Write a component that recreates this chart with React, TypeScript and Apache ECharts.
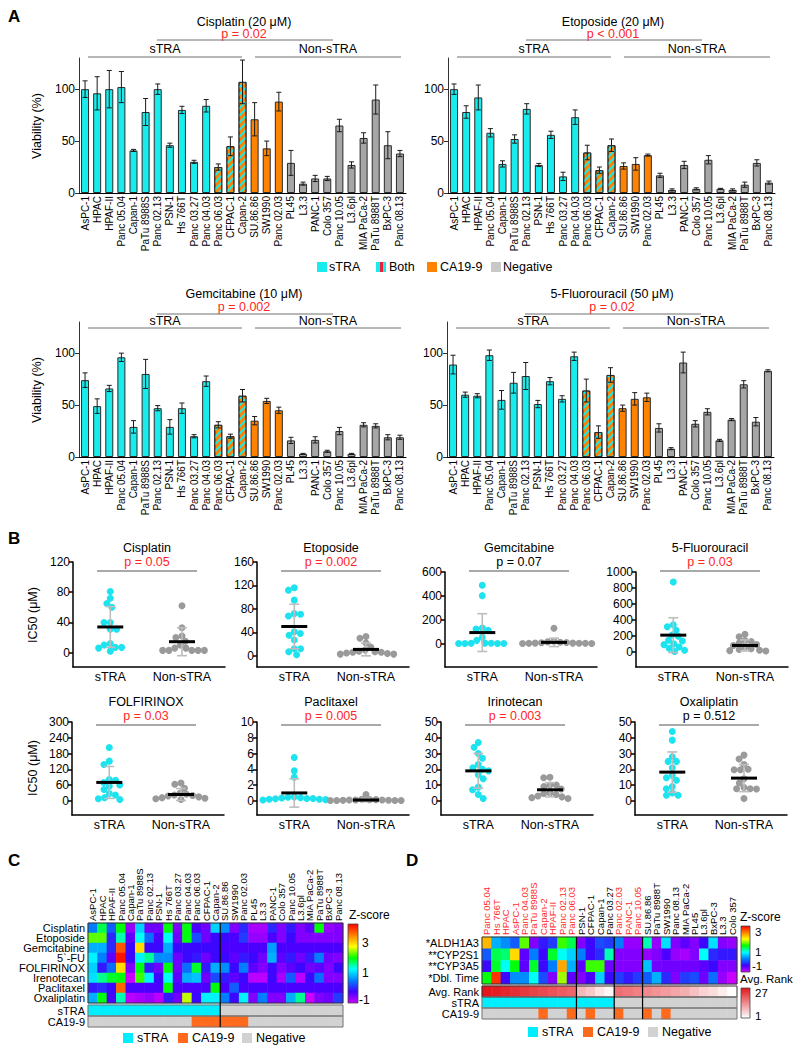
import React, { useEffect, useRef } from 'react';
import * as echarts from 'echarts';

const FONT = '"Liberation Sans", Arial, Helvetica, sans-serif';
const RED = '#ff2626';
const CYAN = '#18ecec';
const ORANGE = '#ff8200';
const GRAY = '#a6a6a6';
const DOT_CYAN = '#1de3ef';
const DOT_GRAY = '#9a9a9a';
const ANN_CYAN = '#00eeff';
const ANN_ORANGE = '#ff6a1c';
const ANN_GRAY = '#d2d2d2';
const ZCOLORS = ['#cc00ff', '#4000ff', '#0080ff', '#00ffff', '#00ff00', '#ffff00', '#ff8000', '#ff0000'];
const RANK_HI = '#e3141b';

// ---------- Panel A ----------
const CELLS = ['AsPC-1', 'HPAC', 'HPAF-II', 'Panc 05.04', 'Capan-1', 'PaTu 8988S', 'Panc 02.13', 'PSN-1', 'Hs 766T', 'Panc 03.27', 'Panc 04.03', 'Panc 06.03', 'CFPAC-1', 'Capan-2', 'SU.86.86', 'SW1990', 'Panc 02.03', 'PL45', 'L3.3', 'PANC-1', 'Colo 357', 'Panc 10.05', 'L3.6pl', 'MIA PaCa-2', 'PaTu 8988T', 'BxPC-3', 'Panc 08.13'];
const STATUS = ['sTRA', 'sTRA', 'sTRA', 'sTRA', 'sTRA', 'sTRA', 'sTRA', 'sTRA', 'sTRA', 'sTRA', 'sTRA', 'Both', 'Both', 'Both', 'CA19-9', 'CA19-9', 'CA19-9', 'Negative', 'Negative', 'Negative', 'Negative', 'Negative', 'Negative', 'Negative', 'Negative', 'Negative', 'Negative'];

const A_CIS = [100, 96, 100, 102, 41, 78, 100, 46, 80, 30, 84, 25, 45, 107, 71, 43, 88, 29, 9, 14, 14, 65, 27, 53, 90, 46, 38];
const A_CIS_ERR = [8, 16, 18, 15, 1, 13, 5, 2, 3.5, 1.5, 6, 3, 9, 21, 16, 7, 9, 12, 1.5, 3, 2, 6, 3, 5, 14, 13, 3];
const A_ETO = [100, 78, 92, 58, 28, 52, 81, 27, 56, 16, 73, 39, 22, 46, 26, 28, 36.5, 17, 3, 27, 4, 32, 4, 3, 8, 29, 10];
const A_ETO_ERR = [5, 6, 12, 4, 3, 4, 5, 1.5, 3.5, 4, 7, 7, 3, 6, 3, 6, 1, 2, 1, 3.5, 1, 4, 0.5, 1, 2.5, 3, 1.5];
const A_GEM = [74, 49, 66, 96, 29, 80, 47, 29, 47, 20, 73, 31, 20, 59, 35, 54, 45, 16, 3, 16.5, 5.5, 25, 3, 31, 30, 19, 19];
const A_GEM_ERR = [7, 7, 3, 4, 6, 14, 2.5, 7, 5, 1.5, 5, 3, 2, 6, 4, 2.5, 3, 3, 0.5, 3, 1, 3.5, 0.5, 2, 2, 2.5, 2];
const A_FU = [89, 60, 59, 98, 55, 71.5, 78, 51, 73, 56, 97, 64, 24, 79, 47, 56, 57.5, 28, 8, 91, 32, 43.5, 16, 36, 70, 34, 83];
const A_FU_ERR = [9, 2.5, 2, 5, 9, 10, 13, 3.5, 3.5, 3, 4, 11, 6, 7, 3, 6, 4, 4, 1, 10, 3, 3, 1, 1, 3.5, 4, 1];
const A_TICKS = [0, 50, 100];

// ---------- Panel B ----------
const B_CIS_S = [81, 72, 65, 60, 40, 40, 31, 31, 12, 10, 7, 7, 6, 2];
const B_CIS_N = [62, 33, 22, 20, 15, 10, 6, 6, 3, 3, 3, 3, 3];
const B_ETO_S = [116, 112, 95, 72, 71, 68, 41, 38, 35, 27, 12, 12, 7, 2];
const B_ETO_N = [33, 30, 22, 15, 10, 8, 7, 6, 6, 5, 4, 3, 3];
const B_GEM_S = [489, 402, 131, 123, 112, 53, 28, 5, 4, 3, 2, 2, 1, 1];
const B_GEM_N = [130, 20, 15, 12, 10, 8, 5, 5, 4, 3, 3, 2, 2];
const B_FU_S = [875, 340, 315, 270, 210, 195, 145, 135, 100, 90, 60, 45, 20, 5];
const B_FU_N = [220, 190, 140, 130, 110, 90, 80, 60, 40, 30, 20, 15, 10];
const B_FOL_S = [203, 151, 138, 81, 78, 70, 60, 56, 43, 28, 22, 12, 8, 5];
const B_FOL_N = [68, 63, 48, 30, 25, 22, 20, 18, 15, 12, 10, 8, 5];
const B_PAC_S = [5.5, 3.8, 3.0, 0.5, 0.45, 0.4, 0.35, 0.3, 0.3, 0.25, 0.2, 0.2, 0.15, 0.1];
const B_PAC_N = [0.8, 0.2, 0.15, 0.15, 0.1, 0.1, 0.1, 0.08, 0.06, 0.05, 0.05, 0.04, 0.03];
const B_IRI_S = [37, 34, 30, 27, 23, 21, 20, 19, 16.5, 14, 8.7, 7, 4, 1.5];
const B_IRI_N = [15, 14.6, 10, 10, 9, 7.5, 5, 4.6, 4, 3, 2.5, 2, 1.5];
const B_OXA_S = [44, 38.5, 28, 25, 25, 21, 16, 14.6, 13, 9, 7.7, 5, 3.5, 3.5];
const B_OXA_N = [29, 26.5, 23, 20, 19.7, 19.7, 14, 11.3, 8.4, 7.7, 7.7, 7.5, 1.5];
// [mean sTRA, sd sTRA, mean Non-sTRA, sd Non-sTRA]
const B_CIS_STAT = [34, 27, 14.5, 18.5];
const B_ETO_STAT = [50, 38, 11, 11];
const B_GEM_STAT = [93, 158, 11, 35];
const B_FU_STAT = [209, 218, 80, 70];
const B_FOL_STAT = [70, 61, 24, 23];
const B_PAC_STAT = [1.0, 1.8, 0.1, 0.2];
const B_IRI_STAT = [19, 11, 7, 4.5];
const B_OXA_STAT = [18.2, 12.8, 14.4, 8.6];
const B_TICKS_CIS = [0, 40, 80, 120];
const B_TICKS_ETO = [0, 40, 80, 120, 160];
const B_TICKS_GEM = [0, 200, 400, 600];
const B_TICKS_FU = [0, 200, 400, 600, 800, 1000];
const B_TICKS_FOL = [0, 60, 120, 180, 240, 300];
const B_TICKS_PAC = [0, 2, 4, 6, 8, 10];
const B_TICKS_50 = [0, 10, 20, 30, 40, 50];

// ---------- Panel C ----------
const C_ROWS = ['Cisplatin', 'Etoposide', 'Gemcitabine', '5`-FU', 'FOLFIRINOX', 'Irenotecan', 'Paclitaxel', 'Oxaliplatin'];
const Z_CIS = [0.5, 1.8, 0.3, 2.0, -0.7, 1.0, -0.5, -0.5, 2.0, -0.6, 2.0, -0.3, -0.5, 1.0, 0.6, -0.6, 0, -0.8, -0.8, 0, -0.6, -0.1, -0.6, -0.4, 2.0, -0.7, -0.6];
const Z_ETO = [2.3, 2.3, 0, 1.5, -0.4, 1.3, 0.4, -0.3, 1.3, -0.5, 2.0, 0.2, -0.5, -0.2, -0.2, -0.3, 0.1, -0.7, -0.7, -0.3, -0.6, -0.2, -0.6, -0.6, -0.6, -0.6, -0.6];
const Z_GEM = [0.8, 0.8, 0, 3.8, -0.2, 3.0, -0.2, -0.2, 0.8, -0.2, -0.2, -0.2, -0.2, -0.2, -0.3, -0.3, -0.3, -0.3, -0.3, 0.7, -0.3, -0.3, -0.3, -0.3, -0.3, -0.3, -0.3];
const Z_FU = [1.2, 0.5, -0.4, 4.2, -0.2, 1.2, 1.6, 0.6, 0.6, -0.5, -0.2, -0.1, -0.5, -0.2, -0.2, -0.4, -0.1, -0.2, -0.5, 0.8, -0.4, -0.1, -0.5, -0.1, 0.5, -0.5, -0.6];
const Z_FOL = [1.0, -0.1, 0.4, 3.0, -0.6, 2.0, -0.1, -0.5, 2.0, -0.5, 0.4, 1.9, -0.1, 0.8, 0.6, -0.2, 0.5, -0.4, -0.6, -0.2, -0.6, -0.4, -0.2, -0.5, -0.4, -0.6, -0.2];
const Z_IRI = [1.1, 1.6, 1.9, 2.0, -1.0, 2.2, 1.2, -0.2, 1.3, -0.4, 0.8, 0.9, -0.5, 0.2, -0.1, -0.4, -0.2, -0.9, -0.9, -0.2, -0.8, 0.3, -0.9, -0.2, 0.4, -0.6, -0.6];
const Z_PAC = [-0.1, 0, -0.2, 3.7, -0.3, -0.3, -0.3, -0.3, 2.0, -0.3, -0.3, -0.3, -0.3, 2.0, -0.3, 0.3, -0.3, -0.3, -0.3, -0.3, -0.3, -0.3, -0.3, -0.3, -0.3, -0.3, -0.3];
const Z_OXA = [0.8, 2.0, -0.3, 1.5, -0.9, -0.8, -0.7, -0.9, -0.1, -0.5, 2.6, -0.2, 1.2, 1.2, 0.5, -0.2, 1.2, -0.6, 0.5, -0.6, -0.6, 0.8, 1.6, -1.0, -0.6, -0.5, 0.1];
const C_Z = [Z_CIS, Z_ETO, Z_GEM, Z_FU, Z_FOL, Z_IRI, Z_PAC, Z_OXA];

// ---------- Panel D ----------
const D_CELLS = ['Panc 05.04', 'Hs 766T', 'HPAC', 'AsPC-1', 'Panc 04.03', 'PaTu 8988S', 'Capan-2', 'HPAF-II', 'Panc 02.13', 'Panc 06.03', 'PSN-1', 'CFPAC-1', 'Capan-1', 'Panc 03.27', 'Panc 02.03', 'PANC-1', 'Panc 10.05', 'SU.86.86', 'PaTu 8988T', 'SW1990', 'Panc 08.13', 'MIA PaCa-2', 'PL45', 'L3.6pl', 'BxPC-3', 'L3.3', 'Colo 357'];
const D_RED_LABELS = ['Panc 05.04', 'Hs 766T', 'HPAC', 'AsPC-1', 'Panc 04.03', 'PaTu 8988S', 'Capan-2', 'HPAF-II', 'Panc 02.13', 'Panc 06.03', 'Panc 02.03', 'PANC-1', 'Panc 10.05'];
const D_ROWS = ['*ALDH1A3', '**CYP2S1', '**CYP3A5', '*Dbl. Time'];
const D_ALDH = [3.2, 0.8, 0.6, 0.3, 2.3, -0.6, -0.1, 0.1, 2.2, 1.8, -0.6, -0.2, 0.2, 0.1, 0.5, -0.7, -0.7, 1.5, -0.7, 1.1, -0.6, -0.4, -0.6, -0.2, 1.1, -0.6, -0.7];
const D_CYP2S1 = [0.3, 1.8, 1.7, 3.0, -0.4, 0.5, -0.2, 1.9, 1.3, 1.0, 0.5, -0.2, 0, 1.5, -0.6, -0.6, -0.6, -0.7, -0.6, -0.3, -0.7, -0.8, -0.6, 1.3, 0, -0.1, -0.1];
const D_CYP3A5 = [-0.2, 1.9, 1.3, 2.0, -0.4, 1.9, -0.2, 0.5, 3.3, 0.8, -0.4, 2.2, 2.2, -0.5, -0.6, -0.6, -0.6, 0.9, -0.5, -0.5, -0.5, -0.5, -0.5, -0.4, -0.2, -0.6, -0.6];
const D_DBL = [2.0, 4.0, -0.2, 0.6, 0.6, 1.3, 0.2, -0.6, 2.5, -0.4, -0.6, -0.3, 1.0, -0.2, 0.1, -0.1, 0.1, 0.3, 0.8, 0, -0.6, 0.1, 0.2, -0.5, 0.4, -0.7, -1.0];
const D_Z = [D_ALDH, D_CYP2S1, D_CYP3A5, D_DBL];
const D_RANK = [27, 26, 25, 24, 23, 22, 21, 20, 19, 18, 9, 7, 4, 2, 17, 16, 15, 14, 13, 12, 11, 10, 8, 6, 5, 3, 1];

function swarm(vals: number[], pxY: number, pxX: number, d: number): number[] {
  const order = vals.map((_, i) => i).sort((a, b) => vals[b] - vals[a]);
  const placed: { x: number; y: number }[] = [];
  const res = new Array(vals.length).fill(0);
  let flip = 1;
  for (const i of order) {
    const y = vals[i] * pxY;
    const cands = [0];
    for (const p of placed) {
      const dy = Math.abs(p.y - y);
      if (dy < d) {
        const dx = Math.sqrt(d * d - dy * dy);
        cands.push(p.x + dx, p.x - dx);
      }
    }
    cands.sort((a, b) => (Math.abs(a) + (a * flip > 0 ? 1e-6 : 0)) - (Math.abs(b) + (b * flip > 0 ? 1e-6 : 0)));
    let best = 0;
    for (const c of cands) {
      if (placed.every((p) => (p.x - c) ** 2 + (p.y - y) ** 2 >= d * d - 0.01)) { best = c; break; }
    }
    if (best !== 0) flip = -flip;
    placed.push({ x: best, y });
    res[i] = best / pxX;
  }
  return res;
}

function barStyle(s: string) {
  const base = { borderColor: '#2a2a2a', borderWidth: 1 };
  if (s === 'sTRA') return { ...base, color: CYAN };
  if (s === 'CA19-9') return { ...base, color: ORANGE };
  if (s === 'Negative') return { ...base, color: GRAY };
  return { ...base, color: ORANGE, decal: { symbol: 'rect', symbolSize: 1, color: CYAN, dashArrayX: [1, 0], dashArrayY: [2, 3], rotation: -Math.PI / 4 } };
}

const renderErrA = (params: any, api: any) => {
  const i = api.value(0), v = api.value(1), e = api.value(2);
  const t = api.coord([i, v + e]);
  const b = api.coord([i, Math.max(0, v - e)]);
  const st = { stroke: '#1a1a1a', lineWidth: 1 };
  return {
    type: 'group', children: [
      { type: 'line', shape: { x1: t[0], y1: t[1], x2: b[0], y2: b[1] }, style: st },
      { type: 'line', shape: { x1: t[0] - 2.5, y1: t[1], x2: t[0] + 2.5, y2: t[1] }, style: st },
      { type: 'line', shape: { x1: b[0] - 2.5, y1: b[1], x2: b[0] + 2.5, y2: b[1] }, style: st },
    ],
  };
};

const renderStat = (params: any, api: any) => {
  const x = api.value(0), m = api.value(1), s = api.value(2);
  const c = api.coord([x, m]), t = api.coord([x, m + s]), b = api.coord([x, m - s]);
  const gs = { stroke: '#bdbdbd', lineWidth: 1.6 };
  return {
    type: 'group', children: [
      { type: 'line', shape: { x1: c[0], y1: t[1], x2: c[0], y2: b[1] }, style: gs },
      { type: 'line', shape: { x1: c[0] - 5, y1: t[1], x2: c[0] + 5, y2: t[1] }, style: gs },
      { type: 'line', shape: { x1: c[0] - 5, y1: b[1], x2: c[0] + 5, y2: b[1] }, style: gs },
      { type: 'line', shape: { x1: c[0] - 13, y1: c[1], x2: c[0] + 13, y2: c[1] }, style: { stroke: '#000', lineWidth: 3 } },
    ],
  };
};

function buildOption() {
  const grid: any[] = [], xAxis: any[] = [], yAxis: any[] = [], series: any[] = [], g: any[] = [];
  const T = (x: number, y: number, text: string, o: any = {}) => g.push({
    type: 'text', x, y, silent: true, rotation: o.rot || 0, z: 10,
    style: { text, fill: o.color || '#000', fontSize: o.size || 12, fontFamily: FONT, fontWeight: o.bold ? 'bold' : 'normal', align: o.align || 'center', verticalAlign: o.va || 'middle' },
  });
  const L = (x1: number, y1: number, x2: number, y2: number, color = '#707070', w = 1) => g.push({ type: 'line', silent: true, z: 10, shape: { x1, y1, x2, y2 }, style: { stroke: color, lineWidth: w } });
  const R = (x: number, y: number, w: number, h: number, fill: any, stroke?: string, lw = 1) => g.push({ type: 'rect', silent: true, z: 10, shape: { x, y, width: w, height: h }, style: { fill: fill || 'none', stroke: stroke || 'none', lineWidth: lw } });

  // ---------- Panel A ----------
  const PANEL_A = [
    { title: 'Cisplatin (20 \u03bcM)', p: 'p = 0.02', vals: A_CIS, errs: A_CIS_ERR, left: 79, top: 58, row: 0 },
    { title: 'Etoposide (20 \u03bcM)', p: 'p < 0.001', vals: A_ETO, errs: A_ETO_ERR, left: 448, top: 58, row: 0 },
    { title: 'Gemcitabine (10 \u03bcM)', p: 'p = 0.002', vals: A_GEM, errs: A_GEM_ERR, left: 79, top: 322, row: 1 },
    { title: '5-Fluorouracil (50 \u03bcM)', p: 'p = 0.02', vals: A_FU, errs: A_FU_ERR, left: 447, top: 322, row: 1 },
  ];
  PANEL_A.forEach((p) => {
    const gi = grid.length;
    grid.push({ left: p.left, top: p.top, width: 327, height: 135, outerBoundsMode: 'none' });
    xAxis.push({ type: 'category', gridIndex: gi, data: CELLS, axisLine: { show: true, lineStyle: { color: '#000', width: 1 } }, axisTick: { show: false }, axisLabel: { rotate: 90, interval: 0, fontSize: 10, fontFamily: FONT, color: '#000', margin: 3 }, splitLine: { show: false } });
    yAxis.push({ type: 'value', gridIndex: gi, min: 0, max: 130, axisLine: { show: true, lineStyle: { color: '#333', width: 1 } }, axisTick: { show: true, length: 4, customValues: A_TICKS, lineStyle: { color: '#333' } }, axisLabel: { customValues: A_TICKS, fontSize: 12, fontFamily: FONT, color: '#000', margin: 4 }, splitLine: { show: false } });
    series.push({ type: 'bar', xAxisIndex: gi, yAxisIndex: gi, barWidth: 8, z: 2, data: p.vals.map((v, i) => ({ value: v, itemStyle: barStyle(STATUS[i]) })) });
    series.push({ type: 'custom', xAxisIndex: gi, yAxisIndex: gi, z: 3, renderItem: renderErrA, data: p.vals.map((v, i) => [i, v, p.errs[i]]) });
    const ry = p.row === 0 ? [22, 34, 40, 49, 57] : [294, 307, 314, 321, 328];
    T(p.left + 165, ry[0], p.title, { size: 12.5 });
    T(p.left + 165, ry[1], p.p, { size: 12.5, color: RED });
    L(p.left + 78, ry[2], p.left + 254, ry[2]);
    T(p.left + 86, ry[3], 'sTRA', { size: 12.5 });
    T(p.left + 249, ry[3], 'Non-sTRA', { size: 12.5 });
    L(p.left + 9, ry[4], p.left + 163, ry[4]);
    L(p.left + 176, ry[4], p.left + 322, ry[4]);
  });
  T(37, 126, 'Viability (%)', { size: 12.5, rot: Math.PI / 2 });
  T(37, 390, 'Viability (%)', { size: 12.5, rot: Math.PI / 2 });
  // legend A
  R(317, 262, 10, 10, CYAN); T(329, 267, 'sTRA', { size: 12.5, align: 'left' });
  R(376, 262, 10, 10, CYAN); R(380, 262, 3, 10, '#e8203c'); T(389, 267, 'Both', { size: 12.5, align: 'left' });
  R(427, 262, 10, 10, ORANGE); T(440, 267, 'CA19-9', { size: 12.5, align: 'left' });
  R(491, 262, 10, 10, '#c8c8c8'); T(503, 267, 'Negative', { size: 12.5, align: 'left' });

  // ---------- Panel B ----------
  const PANEL_B = [
    { title: 'Cisplatin', p: 'p = 0.05', red: true, min: -19, max: 120, ticks: B_TICKS_CIS, left: 73, top: 562, bottom: 667, S: B_CIS_S, N: B_CIS_N, st: B_CIS_STAT, row: 0 },
    { title: 'Etoposide', p: 'p = 0.002', red: true, min: -19, max: 160, ticks: B_TICKS_ETO, left: 257, top: 562, bottom: 667, S: B_ETO_S, N: B_ETO_N, st: B_ETO_STAT, row: 0 },
    { title: 'Gemcitabine', p: 'p = 0.07', red: false, min: -195, max: 600, ticks: B_TICKS_GEM, left: 445, top: 572, bottom: 667, S: B_GEM_S, N: B_GEM_N, st: B_GEM_STAT, row: 0 },
    { title: '5-Fluorouracil', p: 'p = 0.03', red: true, min: -190, max: 1000, ticks: B_TICKS_FU, left: 636, top: 572, bottom: 667, S: B_FU_S, N: B_FU_N, st: B_FU_STAT, row: 0 },
    { title: 'FOLFIRINOX', p: 'p = 0.03', red: true, min: -54, max: 300, ticks: B_TICKS_FOL, left: 72, top: 722, bottom: 815, S: B_FOL_S, N: B_FOL_N, st: B_FOL_STAT, row: 1 },
    { title: 'Paclitaxel', p: 'p = 0.005', red: true, min: -1.8, max: 10, ticks: B_TICKS_PAC, left: 257, top: 722, bottom: 815, S: B_PAC_S, N: B_PAC_N, st: B_PAC_STAT, row: 1 },
    { title: 'Irinotecan', p: 'p = 0.003', red: true, min: -9, max: 50, ticks: B_TICKS_50, left: 441, top: 722, bottom: 815, S: B_IRI_S, N: B_IRI_N, st: B_IRI_STAT, row: 1 },
    { title: 'Oxaliplatin', p: 'p = 0.512', red: false, min: -9, max: 50, ticks: B_TICKS_50, left: 635, top: 722, bottom: 815, S: B_OXA_S, N: B_OXA_N, st: B_OXA_STAT, row: 1 },
  ];
  const BW = 152, XMIN = 0.48, XMAX = 2.6;
  PANEL_B.forEach((p) => {
    const gi = grid.length;
    const h = p.bottom - p.top;
    grid.push({ left: p.left, top: p.top, width: BW, height: h, outerBoundsMode: 'none' });
    xAxis.push({ type: 'value', gridIndex: gi, min: XMIN, max: XMAX, axisLine: { show: true, onZero: false, lineStyle: { color: '#000', width: 1.5 } }, axisTick: { show: false }, splitLine: { show: false }, axisLabel: { customValues: [1, 2], formatter: (v: number) => (v === 1 ? 'sTRA' : 'Non-sTRA'), fontSize: 12.5, fontFamily: FONT, color: '#000', margin: 3 } });
    yAxis.push({ type: 'value', gridIndex: gi, min: p.min, max: p.max, axisLine: { show: true, onZero: false, lineStyle: { color: '#000', width: 1.5 } }, axisTick: { show: true, length: 4, customValues: p.ticks, lineStyle: { color: '#000', width: 1.5 } }, axisLabel: { customValues: p.ticks, formatter: (v: number) => String(v), fontSize: 12, fontFamily: FONT, color: '#000', margin: 3 }, splitLine: { show: false } });
    const pxY = h / (p.max - p.min), pxX = BW / (XMAX - XMIN);
    const jS = swarm(p.S, pxY, pxX, 6.3);
    const jN = swarm(p.N, pxY, pxX, 6.3);
    series.push({ type: 'scatter', xAxisIndex: gi, yAxisIndex: gi, symbolSize: 7, z: 2, itemStyle: { color: DOT_CYAN, opacity: 1 }, data: p.S.map((v, i) => [1 + jS[i], v]) });
    series.push({ type: 'scatter', xAxisIndex: gi, yAxisIndex: gi, symbolSize: 7, z: 2, itemStyle: { color: DOT_GRAY, opacity: 1 }, data: p.N.map((v, i) => [2 + jN[i], v]) });
    series.push({ type: 'custom', xAxisIndex: gi, yAxisIndex: gi, z: 3, renderItem: renderStat, data: [[1, p.st[0], p.st[1]], [2, p.st[2], p.st[3]]] });
    const ry = p.row === 0 ? [548, 562, 571] : [702, 716, 725];
    T(p.left + 74, ry[0], p.title, { size: 12.5 });
    T(p.left + 74, ry[1], p.p, { size: 12.5, color: p.red ? RED : '#000' });
    L(p.left + 24, ry[2], p.left + 124, ry[2], '#555', 1.2);
  });
  T(33, 615, 'IC50 (\u03bcM)', { size: 12.5, rot: Math.PI / 2 });
  T(33, 768, 'IC50 (\u03bcM)', { size: 12.5, rot: Math.PI / 2 });

  // ---------- Panel C ----------
  const CW = 255;
  const CL = 88;
  const gC = grid.length;
  grid.push({ left: CL, top: 923, width: CW, height: 80, outerBoundsMode: 'none' });
  xAxis.push({ type: 'category', gridIndex: gC, data: CELLS, position: 'top', axisLine: { show: false }, axisTick: { show: false }, splitLine: { show: false }, axisLabel: { show: false } });
  yAxis.push({ type: 'category', gridIndex: gC, data: C_ROWS, inverse: true, axisLine: { show: false }, axisTick: { show: false }, splitLine: { show: false }, axisLabel: { interval: 0, fontSize: 11, fontFamily: FONT, color: '#000', margin: 3 } });
  const cData: any[] = [];
  C_Z.forEach((row, r) => row.forEach((v, c) => cData.push([c, r, v])));
  const sC = series.length;
  series.push({ type: 'heatmap', xAxisIndex: gC, yAxisIndex: gC, data: cData, emphasis: { disabled: true } });
  CELLS.forEach((name, i) => T(CL + (i + 0.5) * CW / 27, 921, name, { size: 9.5, align: 'left', rot: Math.PI / 2 }));

  const gCA = grid.length;
  grid.push({ left: CL, top: 1005, width: CW, height: 22, outerBoundsMode: 'none' });
  xAxis.push({ type: 'category', gridIndex: gCA, data: CELLS, show: false });
  yAxis.push({ type: 'category', gridIndex: gCA, data: ['sTRA', 'CA19-9'], inverse: true, axisLine: { show: false }, axisTick: { show: false }, splitLine: { show: false }, axisLabel: { interval: 0, fontSize: 11, fontFamily: FONT, color: '#000', margin: 3 } });
  const caData: any[] = [];
  CELLS.forEach((_, c) => {
    const s = STATUS[c];
    caData.push([c, 0, s === 'sTRA' || s === 'Both' ? 1 : 0]);
    caData.push([c, 1, s === 'CA19-9' || s === 'Both' ? 2 : 0]);
  });
  const sCA = series.length;
  series.push({ type: 'heatmap', xAxisIndex: gCA, yAxisIndex: gCA, data: caData, emphasis: { disabled: true } });

  R(CL, 923, CW, 80, null, '#333', 1);
  R(CL, 1005, CW, 11, null, '#777', 1);
  R(CL, 1016, CW, 11, null, '#777', 1);
  L(CL + 14 * CW / 27, 923, CL + 14 * CW / 27, 1027, '#000', 1.2);
  const zGrad = new echarts.graphic.LinearGradient(0, 0, 0, 1, ZCOLORS.slice().reverse().map((c, i, a) => ({ offset: i / (a.length - 1), color: c })));
  R(348, 924, 10, 79, zGrad, '#444', 0.8);
  T(349, 915, 'Z-score', { size: 12, align: 'left' });
  T(362, 943, '3', { size: 12, align: 'left' });
  T(362, 973, '1', { size: 12, align: 'left' });
  T(359, 1000, '-1', { size: 12, align: 'left' });
  R(123, 1033, 10, 10, ANN_CYAN); T(137, 1038, 'sTRA', { size: 12.5, align: 'left' });
  R(178, 1033, 10, 10, ANN_ORANGE); T(192, 1038, 'CA19-9', { size: 12.5, align: 'left' });
  R(242, 1033, 10, 10, ANN_GRAY); T(256, 1038, 'Negative', { size: 12.5, align: 'left' });

  // ---------- Panel D ----------
  const DL = 482;
  const gD = grid.length;
  grid.push({ left: DL, top: 937, width: CW, height: 47, outerBoundsMode: 'none' });
  xAxis.push({ type: 'category', gridIndex: gD, data: D_CELLS, position: 'top', axisLine: { show: false }, axisTick: { show: false }, splitLine: { show: false }, axisLabel: { show: false } });
  yAxis.push({ type: 'category', gridIndex: gD, data: D_ROWS, inverse: true, axisLine: { show: false }, axisTick: { show: false }, splitLine: { show: false }, axisLabel: { interval: 0, fontSize: 11, fontFamily: FONT, color: '#000', margin: 3 } });
  const dData: any[] = [];
  D_Z.forEach((row, r) => row.forEach((v, c) => dData.push([c, r, v])));
  const sD = series.length;
  series.push({ type: 'heatmap', xAxisIndex: gD, yAxisIndex: gD, data: dData, emphasis: { disabled: true } });
  D_CELLS.forEach((name, i) => T(DL + (i + 0.5) * CW / 27, 935, name, { size: 9.5, align: 'left', rot: Math.PI / 2, color: D_RED_LABELS.indexOf(name) >= 0 ? '#ff2a2a' : '#000' }));

  const gDA = grid.length;
  grid.push({ left: DL, top: 986, width: CW, height: 33, outerBoundsMode: 'none' });
  xAxis.push({ type: 'category', gridIndex: gDA, data: D_CELLS, show: false });
  yAxis.push({ type: 'category', gridIndex: gDA, data: ['Avg. Rank', 'sTRA', 'CA19-9'], inverse: true, axisLine: { show: false }, axisTick: { show: false }, splitLine: { show: false }, axisLabel: { interval: 0, fontSize: 11, fontFamily: FONT, color: '#000', margin: 3 } });
  const sDR = series.length;
  series.push({ type: 'heatmap', xAxisIndex: gDA, yAxisIndex: gDA, data: D_RANK.map((v, c) => [c, 0, v]), emphasis: { disabled: true } });
  const daData: any[] = [];
  D_CELLS.forEach((name, c) => {
    const s = STATUS[CELLS.indexOf(name)];
    daData.push([c, 1, s === 'sTRA' || s === 'Both' ? 1 : 0]);
    daData.push([c, 2, s === 'CA19-9' || s === 'Both' ? 2 : 0]);
  });
  const sDA = series.length;
  series.push({ type: 'heatmap', xAxisIndex: gDA, yAxisIndex: gDA, data: daData, emphasis: { disabled: true } });

  R(DL, 937, CW, 47, null, '#333', 1);
  R(DL, 986, CW, 11, null, '#333', 1);
  R(DL, 997, CW, 11, null, '#777', 1);
  R(DL, 1008, CW, 11, null, '#777', 1);
  [10, 14, 17].forEach((k) => L(DL + k * CW / 27, 937, DL + k * CW / 27, 1019, '#000', 1.2));
  R(741, 926, 9, 46, zGrad, '#444', 0.8);
  T(740, 917, 'Z-score', { size: 12, align: 'left' });
  T(755, 932, '3', { size: 11.5, align: 'left' });
  T(755, 952, '1', { size: 11.5, align: 'left' });
  T(752, 966, '-1', { size: 11.5, align: 'left' });
  T(740, 979, 'Avg. Rank', { size: 11.5, align: 'left' });
  const rGrad = new echarts.graphic.LinearGradient(0, 0, 0, 1, [{ offset: 0, color: RANK_HI }, { offset: 1, color: '#ffffff' }]);
  R(741, 988, 9, 30, rGrad, '#444', 0.8);
  T(755, 993, '27', { size: 11.5, align: 'left' });
  T(755, 1016, '1', { size: 11.5, align: 'left' });
  R(528, 1027, 10, 10, ANN_CYAN); T(542, 1032, 'sTRA', { size: 12.5, align: 'left' });
  R(583, 1027, 10, 10, ANN_ORANGE); T(597, 1032, 'CA19-9', { size: 12.5, align: 'left' });
  R(648, 1027, 10, 10, ANN_GRAY); T(662, 1032, 'Negative', { size: 12.5, align: 'left' });

  // panel letters
  T(8, 16, 'A', { size: 17, bold: true, align: 'left' });
  T(8, 538, 'B', { size: 17, bold: true, align: 'left' });
  T(8, 860, 'C', { size: 17, bold: true, align: 'left' });
  T(406, 860, 'D', { size: 17, bold: true, align: 'left' });

  return {
    animation: false,
    backgroundColor: '#ffffff',
    textStyle: { fontFamily: FONT },
    grid, xAxis, yAxis, series,
    visualMap: [
      { type: 'continuous', show: false, min: -1, max: 4.3, dimension: 2, seriesIndex: [sC, sD], inRange: { color: ZCOLORS } },
      { type: 'continuous', show: false, min: 1, max: 27, dimension: 2, seriesIndex: [sDR], inRange: { color: ['#ffffff', RANK_HI] } },
      { type: 'piecewise', show: false, dimension: 2, seriesIndex: [sCA, sDA], pieces: [{ value: 0, color: ANN_GRAY }, { value: 1, color: ANN_CYAN }, { value: 2, color: ANN_ORANGE }] },
    ],
    graphic: { elements: g },
  };
}

export default function App() {
  const ref = useRef<HTMLDivElement>(null);
  useEffect(() => {
    if (!ref.current) return;
    const chart = echarts.init(ref.current, null, { renderer: 'svg', width: 801, height: 1050 });
    chart.setOption(buildOption() as any);
    return () => chart.dispose();
  }, []);
  return <div ref={ref} style={{ position: 'absolute', left: 0, top: 0, width: 801, height: 1050, background: '#fff' }} />;
}
